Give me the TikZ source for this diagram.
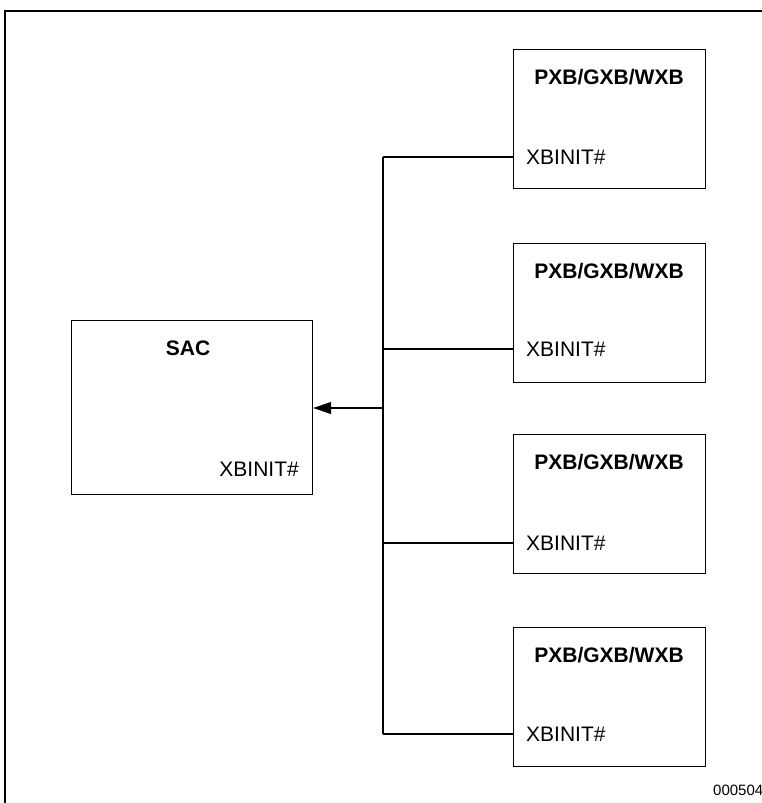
\documentclass[tikz,border=0pt]{standalone}
\usepackage{fontspec}
\setmainfont{Liberation Sans}
\usetikzlibrary{arrows.meta}
\begin{document}
\begin{tikzpicture}[x=1bp,y=-1bp,
  unitbox/.style={draw=black,line width=1.2bp,rectangle,inner sep=0pt,anchor=north west},
  title/.style={font=\fontsize{21bp}{24bp}\selectfont\bfseries,inner sep=0pt},
  pin/.style={font=\fontsize{21bp}{24bp}\selectfont,inner sep=0pt},
  wire/.style={line width=1.2bp,black},
  pxb/.style={unitbox,minimum width=192bp,minimum height=139bp}]
  \useasboundingbox (0,0) rectangle (762,803);
  % outer frame, running off the page on the right and bottom
  \draw[line width=2.2bp] (5,830) -- (5,11) -- (790,11);

  % SAC block
  \node[unitbox,minimum width=241bp,minimum height=174bp] (sac) at (71,320) {};
  \node[title] (sactitle) at (188,348) {SAC};
  \node[pin,anchor=east] (sacpin) at (299,469) {XBINIT\#};

  % four bridge blocks
  \foreach \i/\top/\ln in {1/49/157, 2/243/349, 3/434/543, 4/627/734}{
    \node[pxb] (p\i) at (513,\top) {};
    \node[title] (t\i) at (609,\top+28) {PXB/GXB/WXB};
    \node[pin,anchor=west] (x\i) at (526,\ln) {XBINIT\#};
    \coordinate (j\i) at (383,\ln);
    \draw[wire] (j\i) -- (j\i -| p\i.west);
  }

  % shared XBINIT# line into SAC
  \draw[wire] (j1) -- (j4);
  \coordinate (jm) at (383,408);
  \draw[wire,-{Triangle[length=18bp,width=12bp]}] (jm) -- (jm -| sac.east);

  % figure number
  \node[font=\fontsize{15bp}{18bp}\selectfont,inner sep=0pt,anchor=west] (fignum) at (713,790) {000504};
\end{tikzpicture}
\end{document}
